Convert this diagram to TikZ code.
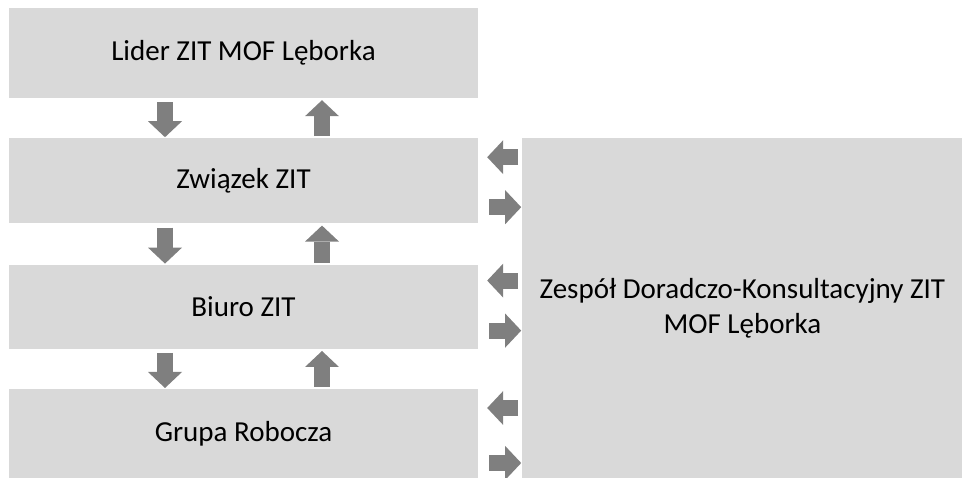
\documentclass[tikz,border=0pt]{standalone}
\usepackage{fontspec}
\setmainfont{Carlito}
\usepackage{tikz}
\usetikzlibrary{calc,positioning,arrows.meta}
\usepackage{xcolor}
\definecolor{boxgray}{HTML}{D9D9D9}
\definecolor{arrowgray}{HTML}{7F7F7F}

\begin{document}
\begin{tikzpicture}[
      x=1pt, y=-1pt,
      every node/.style={font=\fontsize{29}{35}\selectfont},
      orgbox/.style={
        fill=boxgray,
        inner sep=0pt,
        minimum width=469pt,
        align=center
      },
      blockarrow/.style={
        draw=arrowgray, line width=16pt,
        -{Triangle[width=34pt,length=16pt,line width=0pt,fill=arrowgray]}
      }
    ]
      \useasboundingbox (0,0) rectangle (962,478);
      \node[orgbox, minimum height=90pt] (lider) at (243.5,53) {Lider ZIT MOF Lęborka};
      \node[orgbox, minimum height=85pt, below=40pt of lider] (zwiazek) {Związek ZIT};
      \node[orgbox, minimum height=84pt, below=41pt of zwiazek] (biuro) {Biuro ZIT};
      \node[orgbox, minimum height=90pt, below=40pt of biuro] (grupa) {Grupa Robocza};
      \node[orgbox, minimum width=440pt, minimum height=340pt, anchor=north west]
        (zespol) at ([xshift=44pt]zwiazek.north east)
        {Zespół Doradczo-Konsultacyjny ZIT\\MOF Lęborka};
      % strzalki pionowe
      \foreach \top/\bot in {lider/zwiazek, zwiazek/biuro, biuro/grupa}{
        \draw[blockarrow, shorten <=4pt, shorten >=1pt]
          ([xshift=-78.5pt]\top.south) -- ([xshift=-78.5pt]\bot.north);
        \draw[blockarrow, shorten <=2pt, shorten >=2pt]
          ([xshift=78.5pt]\bot.north) -- ([xshift=78.5pt]\top.south);
      }
      % strzalki poziome
      \foreach \nm/\ya/\yb in {zwiazek/19/69, biuro/16/66, grupa/19/74}{
        \coordinate (\nm-in) at ([yshift=-\ya pt]\nm.north east);
        \coordinate (\nm-out) at ([yshift=-\yb pt]\nm.north east);
        \draw[blockarrow, shorten <=4pt, shorten >=9pt] (zespol.west |- \nm-in) -- (\nm-in);
        \draw[blockarrow, shorten <=11pt, shorten >=1pt] (\nm-out) -- (zespol.west |- \nm-out);
      }
    \end{tikzpicture}
\end{document}
